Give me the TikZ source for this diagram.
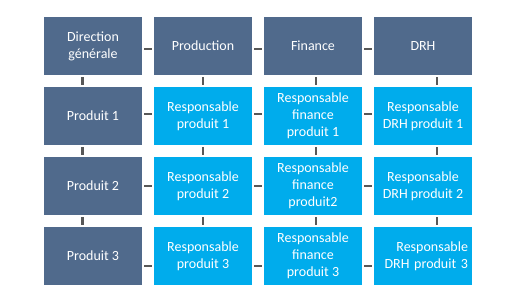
\documentclass[tikz,border=0pt]{standalone}
\usepackage{fontspec}
\setmainfont{Carlito}
\usetikzlibrary{positioning}
\definecolor{chef}{RGB}{80,106,140}
\definecolor{resp}{RGB}{0,172,236}
\definecolor{trait}{RGB}{88,88,88}

\begin{document}
\begin{tikzpicture}[x=1pt,y=1pt,node distance=70pt and 110pt,on grid,
    box/.style={rectangle,minimum width=98pt,minimum height=58pt,inner sep=0pt,
      align=center,text=white,font=\fontsize{14}{17}\selectfont},
    chefbox/.style={box,fill=chef},
    respbox/.style={box,fill=resp},
    link/.style={draw=trait,line width=2.5pt,shorten >=2pt,shorten <=2pt}]
  \useasboundingbox (0,0) rectangle (512,-304);
  % first row
  \node[chefbox] (dg) at (93,-46) {Direction\\générale};
  \node[chefbox] (prod) [right=of dg] {Production};
  \node[chefbox] (fin) [right=of prod] {Finance};
  \node[chefbox] (drh) [right=of fin] {DRH};
  % products
  \node[chefbox] (p1) [below=of dg] {Produit 1};
  \node[chefbox] (p2) [below=of p1] {Produit 2};
  \node[chefbox] (p3) [below=of p2] {Produit 3};
  \node[respbox] (rp1) [right=of p1] {Responsable\\produit 1};
  \node[respbox] (rf1) [right=of rp1] {Responsable\\finance\\produit 1};
  \node[respbox] (rd1) [right=of rf1] {Responsable\\DRH produit 1};
  \node[respbox] (rp2) [right=of p2] {Responsable\\produit 2};
  \node[respbox] (rf2) [right=of rp2] {Responsable\\finance\\produit2};
  \node[respbox] (rd2) [right=of rf2] {Responsable\\DRH produit 2};
  \node[respbox] (rp3) [right=of p3] {Responsable\\produit 3};
  \node[respbox] (rf3) [right=of rp3] {Responsable\\finance\\produit 3};
  \node[respbox,text width=90pt,align=right] (rd3) [right=of rf3] {Responsable\\DRH produit 3};
  % horizontal links
  \foreach \a/\b/\s in {dg/prod/-3,prod/fin/-3,fin/drh/-3,
      p1/rp1/2,rp1/rf1/2,rf1/rd1/2,
      p2/rp2/0,rp2/rf2/0,rf2/rd2/0,
      p3/rp3/-10,rp3/rf3/-10,rf3/rd3/-10}
    \path[link] ([yshift=\s]\a.east) -- ([yshift=\s]\b.west);
  % vertical links
  \foreach \a/\b/\s in {dg/p1/-10.5,p1/p2/-10.5,p2/p3/-10.5,
      prod/rp1/0,rp1/rp2/0,rp2/rp3/0,
      fin/rf1/3,rf1/rf2/3,rf2/rf3/3,
      drh/rd1/14,rd1/rd2/14,rd2/rd3/14}
    \path[link] ([xshift=\s]\a.south) -- ([xshift=\s]\b.north);
\end{tikzpicture}
\end{document}
